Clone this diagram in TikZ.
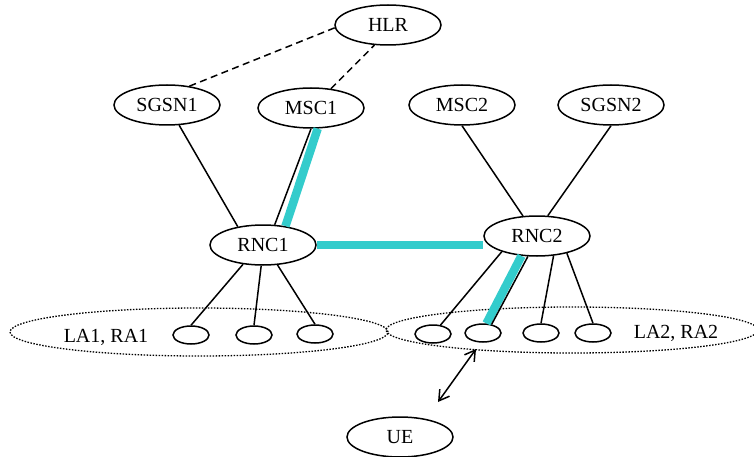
\documentclass[tikz,border=0pt]{standalone}
\usepackage{fontspec}
\setmainfont{Liberation Serif}
\usetikzlibrary{shapes.geometric}
\usetikzlibrary{arrows.meta}
\definecolor{linkcyan}{RGB}{51,204,204}

\begin{document}
\begin{tikzpicture}[x=1pt,y=-1pt,line width=1.5pt,
        elem/.style={draw,ellipse,minimum width=106pt,minimum height=40pt,inner sep=0pt,font=\fontsize{20}{24}\selectfont},
        cell/.style={draw,ellipse,minimum width=36pt,minimum height=18pt,inner sep=0pt},
        area/.style={draw,ellipse,line width=1.3pt,dash pattern=on 1.5pt off 1.5pt,inner sep=0pt},
        label/.style={font=\fontsize{20}{24}\selectfont},
        sig/.style={dash pattern=on 7pt off 4.5pt},
        cyanlink/.style={line width=8.5pt,draw=linkcyan}]
        \useasboundingbox (0,0) rectangle (754,457);
        \node[area, minimum width=378pt, minimum height=48pt] (la1) at (199,332){};
        \node[area, minimum width=372pt, minimum height=46pt] (la2) at (572,330){};
        \node[label] (la1t) at (106,337){LA1, RA1};
        \node[label] (la2t) at (676,333){LA2, RA2};
        \node[elem] (hlr) at (388,25){HLR};
        \node[elem] (sgsn1) at (167,105){SGSN1};
        \node[elem] (msc1) at (311,108){MSC1};
        \node[elem] (msc2) at (462,105){MSC2};
        \node[elem] (sgsn2) at (611,105){SGSN2};
        \node[elem] (rnc1) at (263,245){RNC1};
        \node[elem] (rnc2) at (537,236){RNC2};
        \node[elem] (ue) at (400,437){UE};
        \node[cell] (c1) at (191,335){};
        \node[cell] (c2) at (254,335){};
        \node[cell] (c3) at (315,334){};
        \node[cell] (c4) at (433,334){};
        \node[cell] (c5) at (483,333){};
        \node[cell] (c6) at (541,333){};
        \node[cell] (c7) at (593,333){};
        \draw[sig](sgsn1.40)--(hlr.183);
        \draw[sig](msc1.44)--(hlr.236);
        \draw(sgsn1.301)--(rnc1.144);
        \draw(msc1.south)--(rnc1.60);
        \draw[cyanlink](msc1.288)--(rnc1.40);
        \draw(msc2.south)--(rnc2.125);
        \draw(sgsn2.south)--(rnc2.62);
        \draw[cyanlink](rnc1.east)--(rnc1.east -| rnc2.west);
        \draw(rnc1.224)--(c1.north);
        \draw(rnc1.265)--(c2.north);
        \draw(rnc1.306)--(c3.north);
        \draw(rnc2.204)--(c4.50);
        \draw[cyanlink](rnc2.232)--(c5.70);
        \draw(rnc2.246)--(c5.45);
        \draw(rnc2.310)--(c6.north);
        \draw(rnc2.330)--(c7.north);
        \coordinate (a1) at (476,349);
        \coordinate (a2) at (438,402);
        \draw[{Straight Barb[length=10pt,width=12pt]}-{Straight Barb[length=10pt,width=12pt]}](a1)--(a2);
    \end{tikzpicture}
\end{document}
